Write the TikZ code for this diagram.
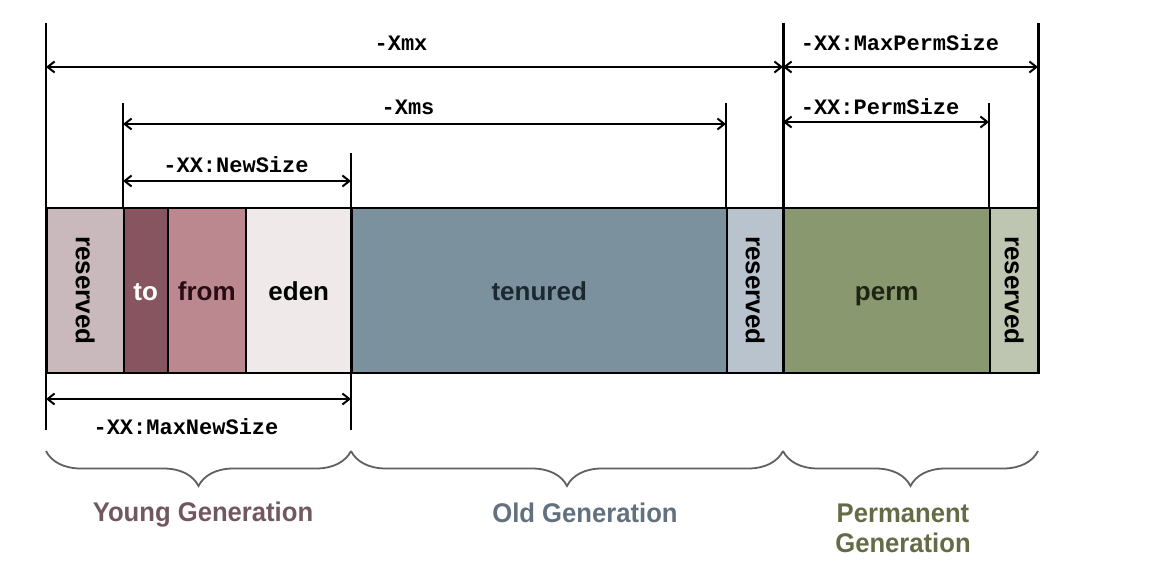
\documentclass[tikz,border=0pt]{standalone}
\usepackage{fontspec}
\setmainfont{Liberation Sans}
\newfontfamily\monob{Liberation Mono}[BoldFont={* Bold}]
\newfontfamily\genfont{Liberation Sans}[FakeStretch=0.95]
\usetikzlibrary{arrows.meta,decorations.pathreplacing}
\definecolor{cResA}{HTML}{C9B9BD}
\definecolor{cTo}{HTML}{875560}
\definecolor{cFrom}{HTML}{BB8890}
\definecolor{cEden}{HTML}{EFE9EA}
\definecolor{cTen}{HTML}{7B929E}
\definecolor{cResB}{HTML}{B9C3CD}
\definecolor{cPerm}{HTML}{8A9870}
\definecolor{cResC}{HTML}{BEC5B0}
\definecolor{cYoung}{HTML}{715860}
\definecolor{cOld}{HTML}{62717D}
\definecolor{cPermT}{HTML}{636C45}
\definecolor{cBrace}{HTML}{606060}
\definecolor{cFromT}{HTML}{2A0C12}
\definecolor{cTenT}{HTML}{1C2830}
\definecolor{cPermTx}{HTML}{1E2414}
\begin{document}
\begin{tikzpicture}[x=1pt,y=-1pt,
  seg/.style={draw=black,line width=1.5pt,inner sep=0pt,minimum height=165pt,anchor=north west,
    font=\fontsize{26}{30}\selectfont\bfseries},
  hl/.style={text height=22pt,text depth=2pt},
  vline/.style={line width=2pt},
  vthick/.style={line width=3pt},
  dim/.style={line width=2.2pt,{Straight Barb[length=7pt,width=11pt,line width=2pt]}-{Straight Barb[length=7pt,width=11pt,line width=2pt]}},
  dimlab/.style={font=\monob\fontsize{22}{24}\selectfont\bfseries,inner sep=0pt},
  gen/.style={font=\genfont\fontsize{27}{30}\selectfont\bfseries,align=center,inner sep=0pt},
  brc/.style={draw=cBrace,line width=1.8pt,decorate,decoration={brace,mirror,amplitude=35pt,aspect=0.5}}]
\useasboundingbox (0,0) rectangle (1155,575);
\fill[white] (0,0) rectangle (1155,575);
% bar segments
\node[seg,fill=cResA,minimum width=77pt] (resA) at (46,207) {\rotatebox{-90}{reserved}};
\node[seg,hl,fill=cTo,minimum width=44pt,text=white] (to) at (123,207) {to};
\node[seg,hl,fill=cFrom,minimum width=78pt,text=cFromT] (from) at (167,207) {from};
\node[seg,hl,fill=cEden,minimum width=106pt] (eden) at (245,207) {eden};
\node[seg,hl,fill=cTen,minimum width=375pt,text=cTenT] (ten) at (351,207) {tenured};
\node[seg,fill=cResB,minimum width=57pt] (resB) at (726,207) {\rotatebox{-90}{reserved}};
\node[seg,hl,fill=cPerm,minimum width=206pt,text=cPermTx] (perm) at (783,207) {perm};
\node[seg,fill=cResC,minimum width=49pt] (resC) at (989,207) {\rotatebox{-90}{reserved}};
% extension lines
\coordinate (a0) at (46,23);   \coordinate (a1) at (46,430);
\coordinate (b0) at (123,103); \coordinate (b1) at (123,207);
\coordinate (c0) at (351,153); \coordinate (c1) at (351,430);
\coordinate (d0) at (726,103); \coordinate (d1) at (726,207);
\coordinate (e0) at (783,23);  \coordinate (e1) at (783,372);
\coordinate (f0) at (989,103); \coordinate (f1) at (989,207);
\coordinate (g0) at (1038,23); \coordinate (g1) at (1038,372);
\draw[vline] (a0) -- (a1);
\draw[vline] (b0) -- (b1);
\draw[vline] (c0) -- (c1);
\draw[vline] (d0) -- (d1);
\draw[vthick] (e0) -- (e1);
\draw[vline] (f0) -- (f1);
\draw[vthick] (g0) -- (g1);
% dimension arrows
\coordinate (xmxL) at (46,67);  \coordinate (xmxR) at (783,67);
\coordinate (mpL) at (783,67);  \coordinate (mpR) at (1038,67);
\coordinate (xmsL) at (123,124); \coordinate (xmsR) at (726,124);
\coordinate (psL) at (783,122); \coordinate (psR) at (989,122);
\coordinate (nsL) at (123,181); \coordinate (nsR) at (351,181);
\coordinate (mnL) at (46,399);  \coordinate (mnR) at (351,399);
\draw[dim] (xmxL) -- (xmxR);
\draw[dim] (mpL) -- (mpR);
\draw[dim] (xmsL) -- (xmsR);
\draw[dim] (psL) -- (psR);
\draw[dim] (nsL) -- (nsR);
\draw[dim] (mnL) -- (mnR);
\node[dimlab] (lxmx) at (401,43) {-Xmx};
\node[dimlab] (lmp) at (900,43) {-XX:MaxPermSize};
\node[dimlab] (lxms) at (408,107) {-Xms};
\node[dimlab] (lps) at (880,107) {-XX:PermSize};
\node[dimlab] (lns) at (236,165) {-XX:NewSize};
\node[dimlab] (lmn) at (186,427) {-XX:MaxNewSize};
% braces
\coordinate (brA) at (46,451); \coordinate (brB) at (351,451);
\coordinate (brC) at (783,451); \coordinate (brD) at (1038,451);
\draw[brc] (brA) -- (brB);
\draw[brc] (brB) -- (brC);
\draw[brc] (brC) -- (brD);
\node[gen,text=cYoung] (young) at (203,515) {Young Generation};
\node[gen,text=cOld] (old) at (585,513) {Old Generation};
\node[gen,text=cPermT] (pgen) at (903,528) {Permanent\\Generation};
\end{tikzpicture}
\end{document}
